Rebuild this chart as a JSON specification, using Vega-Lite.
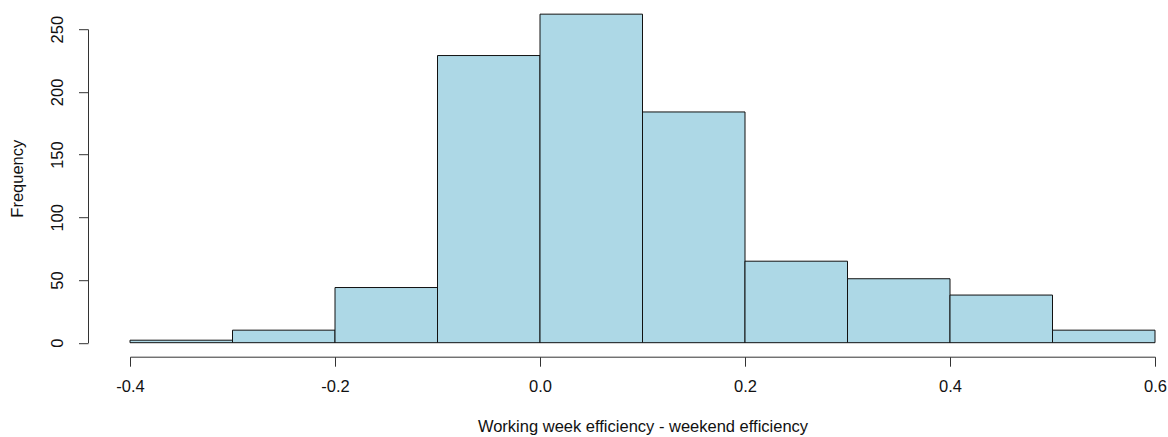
{
  "$schema": "https://vega.github.io/schema/vega-lite/v6.json",
  "autosize": {"type": "none"},
  "width": 1025,
  "height": 313.5,
  "padding": {"left": 130, "top": 29.2, "right": 13, "bottom": 94.3},
  "background": "white",
  "config": {
    "view": {"stroke": null},
    "font": "Liberation Sans",
    "axis": {"grid": false, "domainColor": "#333333", "tickColor": "#333333", "labelColor": "#111111", "titleColor": "#111111", "labelFont": "Liberation Sans", "titleFont": "Liberation Sans", "labelFontSize": 16.5, "titleFontSize": 16.5, "titleFontWeight": "normal", "tickSize": 9.5, "domainWidth": 1, "tickWidth": 1}
  },
  "data": {
    "values": [
      {"bin_start": -0.4, "bin_end": -0.3, "count": 2},
      {"bin_start": -0.3, "bin_end": -0.2, "count": 10},
      {"bin_start": -0.2, "bin_end": -0.1, "count": 44},
      {"bin_start": -0.1, "bin_end": 0.0, "count": 229},
      {"bin_start": 0.0, "bin_end": 0.1, "count": 262},
      {"bin_start": 0.1, "bin_end": 0.2, "count": 184},
      {"bin_start": 0.2, "bin_end": 0.3, "count": 65},
      {"bin_start": 0.3, "bin_end": 0.4, "count": 51},
      {"bin_start": 0.4, "bin_end": 0.5, "count": 38},
      {"bin_start": 0.5, "bin_end": 0.6, "count": 10}
    ]
  },
  "mark": {"type": "rect", "fill": "#ADD8E6", "stroke": "#111111", "strokeWidth": 1, "clip": false},
  "encoding": {
    "x": {
      "field": "bin_start",
      "type": "quantitative",
      "scale": {"domain": [-0.4, 0.6], "nice": false, "zero": false},
      "axis": {
        "title": "Working week efficiency - weekend efficiency",
        "values": [-0.4, -0.2, 0, 0.2, 0.4, 0.6],
        "labelExpr": "replace(format(datum.value, '.1f'), '\u2212', '-')",
        "offset": 14,
        "labelPadding": 12,
        "titlePadding": 24,
        "labelFlush": false
      }
    },
    "x2": {"field": "bin_end"},
    "y": {
      "field": "count",
      "type": "quantitative",
      "scale": {"domain": [0, 250], "nice": false},
      "axis": {
        "title": "Frequency",
        "values": [0, 50, 100, 150, 200, 250],
        "offset": 42,
        "labelAngle": -90,
        "labelAlign": "center",
        "labelBaseline": "bottom",
        "labelPadding": 13,
        "titlePadding": 24,
        "titleY": 149,
        "labelFlush": false
      }
    },
    "y2": {"datum": 0}
  }
}
